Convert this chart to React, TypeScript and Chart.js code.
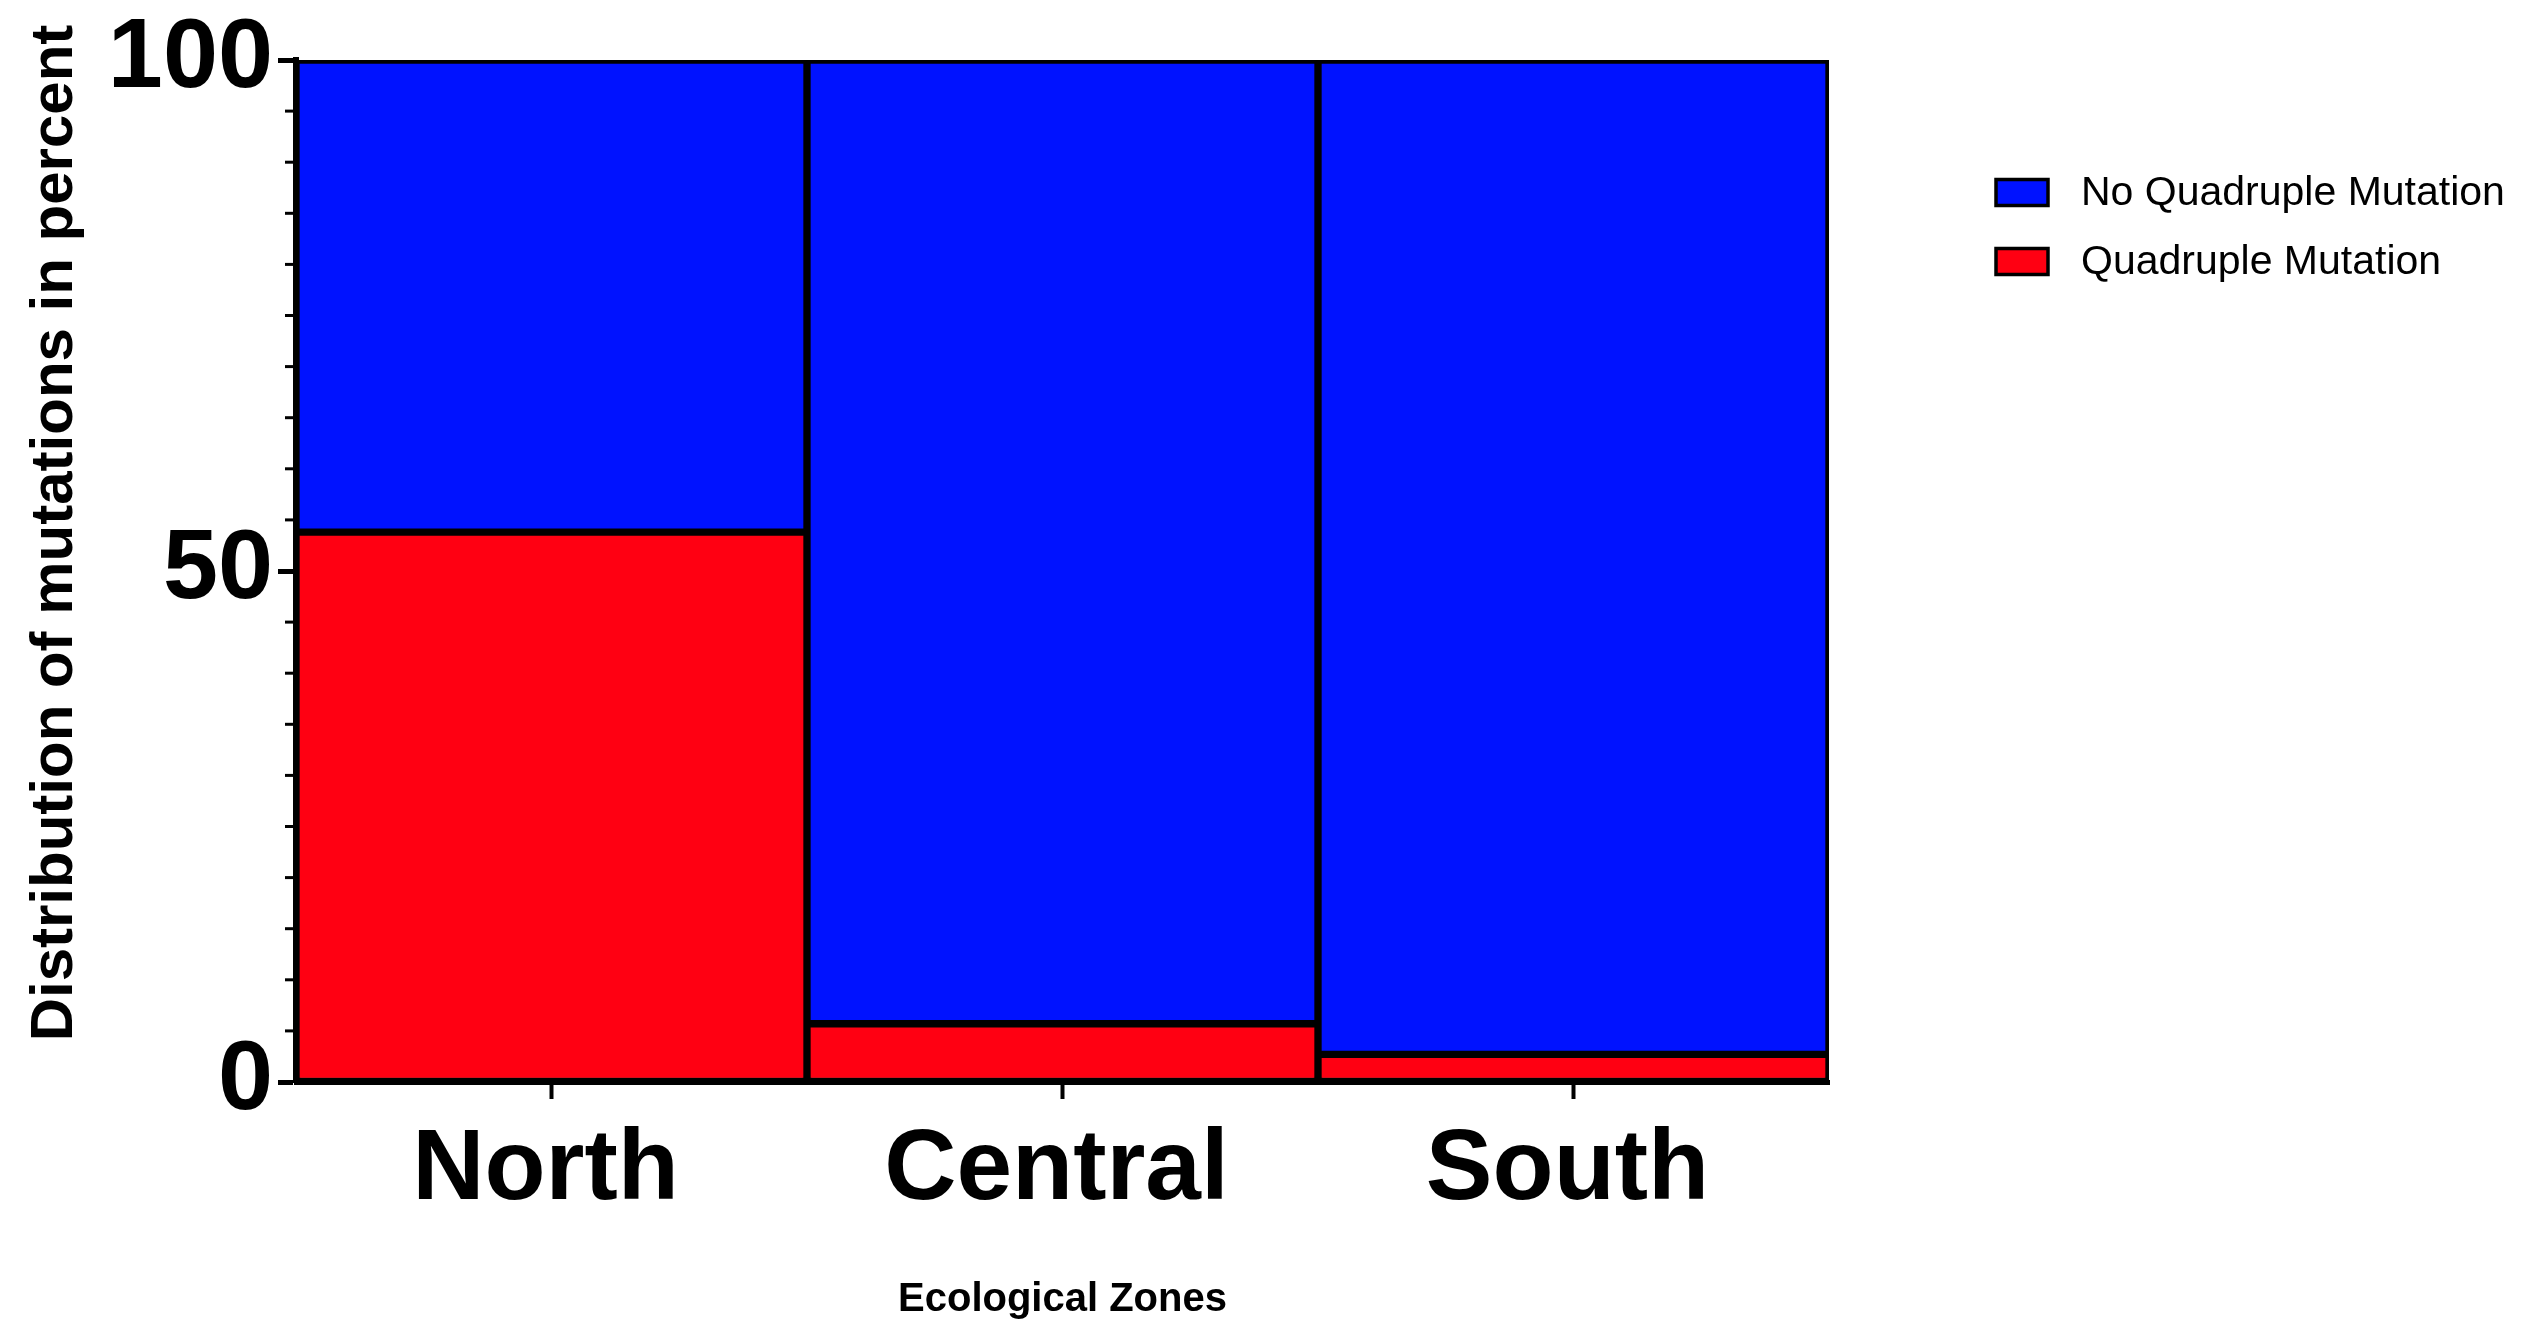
import React, { useEffect, useRef } from 'react';
import { Chart, registerables } from 'chart.js';

Chart.register(...registerables);

// ---- data ----
const zones = ['North', 'Central', 'South'];
const quadrupleMutation = [53.8, 5.7, 2.7];
const noQuadrupleMutation = [46.2, 94.3, 97.3];
const seriesLabels = ['Quadruple Mutation', 'No Quadruple Mutation'];
const yMajorTicks = [0, 50, 100];
const yMinorStep = 5;
const yAxisTitle = 'Distribution of mutations in percent';
const xAxisTitle = 'Ecological Zones';

const RED = '#FF0012';
const BLUE = '#0012FF';
const FONT = "'Liberation Sans', Arial, Helvetica, sans-serif";

const W = 2523;
const H = 1329;

export default function App() {
  const ref = useRef<HTMLCanvasElement>(null);

  useEffect(() => {
    const canvas = ref.current;
    if (!canvas) return;

    const minorTicks = {
      id: 'minorTicks',
      afterDraw(chart: any) {
        const y = chart.scales.y;
        const ctx = chart.ctx;
        ctx.save();
        ctx.strokeStyle = '#000';
        ctx.lineWidth = 3;
        for (let v = y.min + yMinorStep; v < y.max; v += yMinorStep) {
          if (yMajorTicks.includes(v)) continue;
          const py = y.getPixelForValue(v);
          ctx.beginPath();
          ctx.moveTo(chart.chartArea.left - 11, py);
          ctx.lineTo(chart.chartArea.left, py);
          ctx.stroke();
        }
        ctx.restore();
      },
    };

    const yTitle = {
      id: 'yTitle',
      afterDraw(chart: any) {
        const ctx = chart.ctx;
        const area = chart.chartArea;
        ctx.save();
        ctx.translate(72, (area.top + area.bottom) / 2 - 38);
        ctx.rotate(-Math.PI / 2);
        ctx.font = `bold 60px ${FONT}`;
        ctx.fillStyle = '#000';
        ctx.textAlign = 'center';
        ctx.textBaseline = 'alphabetic';
        ctx.fillText(yAxisTitle, 0, 0);
        ctx.restore();
      },
    };

    const sideLegend = {
      id: 'sideLegend',
      afterDraw(chart: any) {
        const ctx = chart.ctx;
        const ds = [...chart.data.datasets].reverse();
        ctx.save();
        ctx.font = `41px ${FONT}`;
        ctx.textBaseline = 'middle';
        ctx.textAlign = 'left';
        ds.forEach((d: any, i: number) => {
          const cy = 192.5 + i * 69;
          const bx = 1996;
          const bw = 52;
          const bh = 26;
          ctx.fillStyle = d.backgroundColor;
          ctx.fillRect(bx, cy - bh / 2, bw, bh);
          ctx.strokeStyle = '#000';
          ctx.lineWidth = 3.5;
          ctx.strokeRect(bx, cy - bh / 2, bw, bh);
          ctx.fillStyle = '#000';
          ctx.fillText(d.label, 2081, cy + 1);
        });
        ctx.restore();
      },
    };

    const chart = new Chart(canvas, {
      type: 'bar',
      data: {
        labels: zones,
        datasets: [
          {
            label: seriesLabels[0],
            data: quadrupleMutation,
            backgroundColor: RED,
            borderColor: '#000',
            borderWidth: 4,
            borderSkipped: false,
            barPercentage: 1,
            categoryPercentage: 1,
          },
          {
            label: seriesLabels[1],
            data: noQuadrupleMutation,
            backgroundColor: BLUE,
            borderColor: '#000',
            borderWidth: 4,
            borderSkipped: false,
            barPercentage: 1,
            categoryPercentage: 1,
          },
        ],
      },
      options: {
        responsive: false,
        animation: false,
        devicePixelRatio: 1,
        layout: { padding: { top: 60, right: 694, left: 0, bottom: 0 } },
        plugins: {
          legend: { display: false },
          tooltip: { enabled: false },
          title: { display: false },
        },
        scales: {
          x: {
            stacked: true,
            offset: true,
            afterFit(scale: any) {
              scale.height = 247;
              scale.paddingLeft = 0;
              scale.paddingRight = 0;
            },
            border: { display: true, color: '#000', width: 5 },
            grid: {
              display: true,
              offset: false,
              drawOnChartArea: false,
              drawTicks: true,
              tickLength: 17,
              tickWidth: 4,
              tickColor: '#000',
            },
            ticks: {
              color: '#000',
              padding: 12,
              labelOffset: -6,
              font: { family: FONT, size: 100, weight: 'bold' },
              maxRotation: 0,
            },
            title: {
              display: true,
              text: xAxisTitle,
              color: '#000',
              font: { family: FONT, size: 40, weight: 'bold' },
              padding: { top: 0, bottom: 5 },
            },
          },
          y: {
            stacked: true,
            min: 0,
            max: 100,
            afterFit(scale: any) {
              scale.width = 296;
              scale.paddingTop = 0;
              scale.paddingBottom = 0;
            },
            afterBuildTicks(scale: any) {
              scale.ticks = yMajorTicks.map((v) => ({ value: v }));
            },
            border: { display: true, color: '#000', width: 6 },
            grid: {
              display: true,
              drawOnChartArea: false,
              drawTicks: true,
              tickLength: 18,
              tickWidth: 5,
              tickColor: '#000',
            },
            ticks: {
              color: '#000',
              padding: 5,
              font: { family: FONT, size: 99, weight: 'bold' },
            },
            title: { display: false },
          },
        },
      },
      plugins: [minorTicks, yTitle, sideLegend],
    } as any);

    return () => {
      chart.destroy();
    };
  }, []);

  return (
    <div style={{ position: 'fixed', left: 0, top: 0, width: W, height: H, background: '#fff' }}>
      <canvas ref={ref} width={W} height={H} style={{ width: W, height: H, display: 'block' }} />
    </div>
  );
}
